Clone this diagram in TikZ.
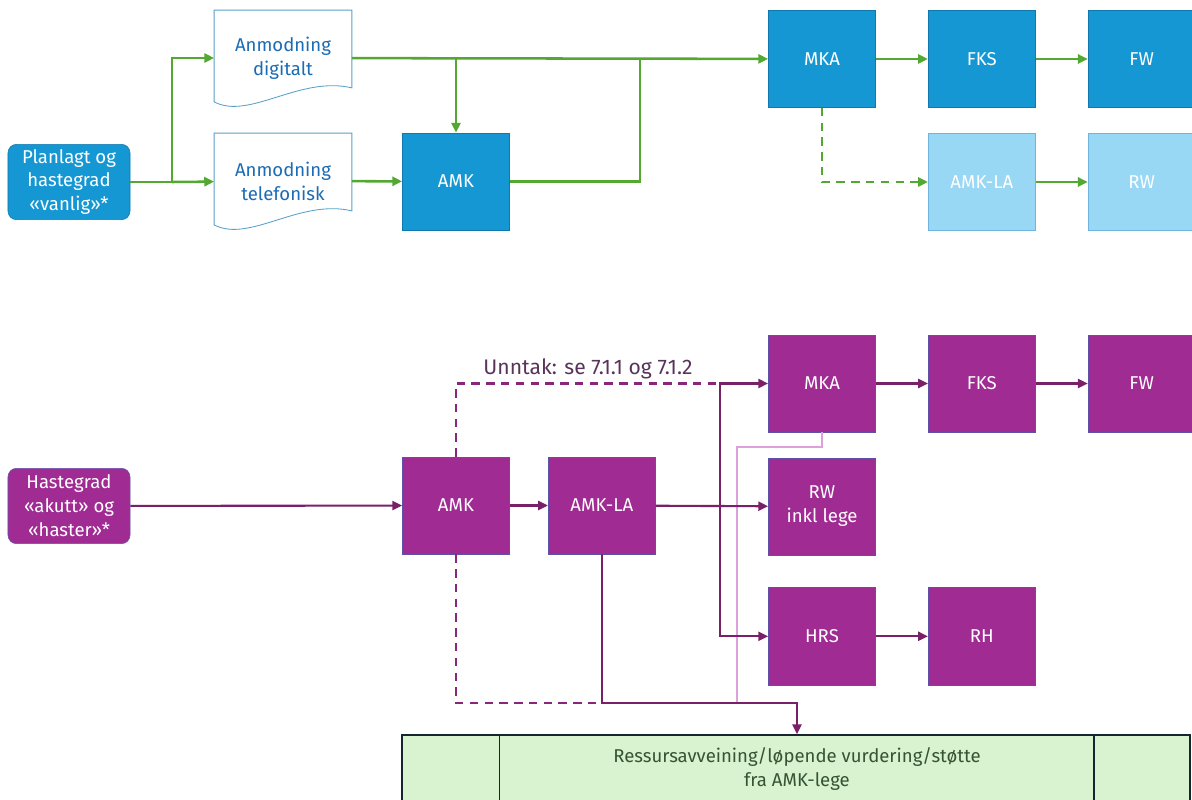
\documentclass[tikz,border=0pt]{standalone}
\usepackage{fontspec}
\setmainfont{Fira Sans}
\usetikzlibrary{positioning,arrows.meta}

\definecolor{bluebox}{RGB}{21,151,211}
\definecolor{blueedge}{RGB}{16,120,175}
\definecolor{lightbox}{RGB}{152,216,245}
\definecolor{lightedge}{RGB}{110,180,220}
\definecolor{purplebox}{RGB}{160,43,147}
\definecolor{purpleedge}{RGB}{95,80,170}
\definecolor{purplearrow}{RGB}{122,32,104}
\definecolor{greenarrow}{RGB}{82,168,48}
\definecolor{pinkline}{RGB}{222,160,218}
\definecolor{doctext}{RGB}{28,108,180}
\definecolor{barfill}{RGB}{217,242,208}
\definecolor{baredge}{RGB}{22,38,48}
\definecolor{bartext}{RGB}{52,84,52}
\definecolor{notetext}{RGB}{88,52,88}

\begin{document}
\begin{tikzpicture}[x=0.025cm, y=-0.025cm, node distance=1.3cm,
  font=\fontsize{13.2}{17}\selectfont,
  box/.style = {draw=blueedge, line width=0.4pt, fill=bluebox, text=white, align=center,
                minimum width=2.68cm, minimum height=2.43cm},
  lbox/.style = {box, draw=lightedge, fill=lightbox},
  pbox/.style = {box, draw=purpleedge, fill=purplebox},
  start/.style = {box, rounded corners=6pt, minimum width=3.05cm, minimum height=1.88cm},
  pstart/.style = {start, draw=purpleedge, fill=purplebox},
  doc/.style = {text=doctext, align=center, minimum width=3.43cm, minimum height=2.38cm},
  docline/.style = {draw=blueedge!70, line width=0.6pt, fill=white},
  garr/.style = {draw=greenarrow, line width=1.8pt, -{Triangle[length=7pt,width=6.5pt]}},
  gline/.style = {draw=greenarrow, line width=1.8pt},
  parr/.style = {draw=purplearrow, line width=1.5pt, -{Triangle[length=7pt,width=6.5pt]}},
  pline/.style = {draw=purplearrow, line width=1.5pt},
  pdash/.style = {pline, draw=purplebox!85!black, line width=1.8pt, dash pattern=on 6pt off 4.5pt},
  pinkl/.style = {draw=pinkline, line width=1.5pt}]
\useasboundingbox (0,0) rectangle (1192,800);
\clip (0,0) rectangle (1192,800);

% upper flow
\node[start] (plan) at (69,182) {Planlagt og\\hastegrad\\«vanlig»*};
\node[doc] (dig) at (283,58) {};
\node[doc] (tel) at (283,181) {};
\draw[docline] (dig.north west) -- (dig.north east) -- ([yshift=0.45cm]dig.south east)
  .. controls ([shift={(-1.3cm,0.76cm)}]dig.south east) and ([shift={(0.88cm,-0.36cm)}]dig.south west) .. ([yshift=0.1cm]dig.south west) -- cycle;
\draw[docline] (tel.north west) -- (tel.north east) -- ([yshift=0.45cm]tel.south east)
  .. controls ([shift={(-1.3cm,0.76cm)}]tel.south east) and ([shift={(0.88cm,-0.36cm)}]tel.south west) .. ([yshift=0.1cm]tel.south west) -- cycle;
\node[doc] (digtxt) at (dig) {Anmodning\\digitalt};
\node[doc] (teltxt) at (tel) {Anmodning\\telefonisk};
\node[box] (amk) at (456,181.5) {AMK};
\node[box] (mka) at (822,59) {MKA};
\node[box] (fks) [right=of mka] {FKS};
\node[box] (fw) [right=of fks] {FW};
\node[lbox] (amkla) [below=0.63cm of fks] {AMK-LA};
\node[lbox] (rw) [right=of amkla] {RW};

\coordinate (s1) at (172,182);
\coordinate (j1) at (640,58);
\draw[gline] (plan) -- (s1);
\draw[garr] (s1) |- (dig);
\draw[garr] (s1) -- (tel);
\draw[garr] (dig) -- (mka);
\draw[garr] (amk |- dig) -- (amk);
\draw[garr] (tel) -- (amk);
\draw[gline] (amk) -| (j1);
\draw[garr] (mka) -- (fks);
\draw[garr] (fks) -- (fw);
\draw[garr, dash pattern=on 6pt off 4.5pt] (mka.south) |- (amkla.west);
\draw[garr] (amkla) -- (rw);

% lower flow
\node[pstart] (haste) at (69,506) {Hastegrad\\«akutt» og\\«haster»*};
\node[pbox] (pamk) at (456,505.5) {AMK};
\node[pbox] (pamkla) [right=0.95cm of pamk] {AMK-LA};
\node[pbox] (pmka) at (822,383.5) {MKA};
\node[pbox] (pfks) [right=of pmka] {FKS};
\node[pbox] (pfw) [right=of pfks] {FW};
\node[pbox] (prw) [below=0.63cm of pmka] {RW\\inkl lege};
\node[pbox] (phrs) [below=0.8cm of prw] {HRS};
\node[pbox] (prh) [right=of phrs] {RH};
\node[draw=baredge, line width=1pt, fill=barfill, minimum width=19.7cm, minimum height=1.65cm] (bar) at (796,768) {};
\draw[draw=baredge, line width=1pt] ([xshift=2.45cm]bar.north west) -- ([xshift=2.45cm]bar.south west);
\draw[draw=baredge, line width=1pt] ([xshift=-2.42cm]bar.north east) -- ([xshift=-2.42cm]bar.south east);
\node[text=bartext, align=center] (bartxt) at (797,769) {Ressursavveining/løpende vurdering/støtte\\fra AMK-lege};

\coordinate (v) at (720,505);
\coordinate (jb) at (600,703);
\coordinate (bt) at (797,703);
\coordinate (pk) at (737,447);
\draw[pinkl] (pmka.south) |- (pk) -- (pk |- bt);
\draw[parr] (haste) -- (pamk);
\draw[parr] (pamk) -- (pamkla);
\draw[parr] (pamkla) -- (prw);
\draw[parr] (v) |- (pmka);
\draw[parr] (v) |- (phrs);
\draw[pdash] (pamk.north) |- (v |- pmka)
  node[pos=0.75, above, text=notetext, inner sep=2pt, font=\fontsize{15}{17}\selectfont] {Unntak: se 7.1.1 og 7.1.2};
\draw[pdash] (pamk.south) |- (jb);
\draw[parr] (pamkla.south) |- (bt) -- (bt |- bar.north);
\draw[parr] (pmka) -- (pfks);
\draw[parr] (pfks) -- (pfw);
\draw[parr] (phrs) -- (prh);
\end{tikzpicture}
\end{document}
